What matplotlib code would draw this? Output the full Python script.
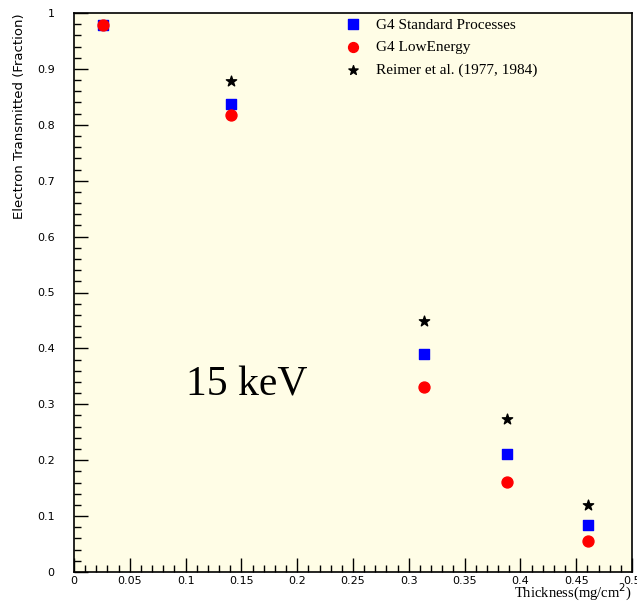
import matplotlib
matplotlib.use("Agg")
import matplotlib.pyplot as plt
from matplotlib.ticker import MultipleLocator

thickness = [0.026, 0.1407, 0.3136, 0.388, 0.4606]
g4_standard = [0.978, 0.838, 0.390, 0.211, 0.084]
g4_lowenergy = [0.978, 0.818, 0.331, 0.161, 0.055]
reimer_thickness = [0.1407, 0.3136, 0.388, 0.4606]
reimer = [0.879, 0.449, 0.274, 0.120]
x_ticks = [0, 0.05, 0.1, 0.15, 0.2, 0.25, 0.3, 0.35, 0.4, 0.45, 0.5]
x_labels = ["0", "0.05", "0.1", "0.15", "0.2", "0.25", "0.3", "0.35", "0.4", "0.45", "0.5"]
y_ticks = [0, 0.1, 0.2, 0.3, 0.4, 0.5, 0.6, 0.7, 0.8, 0.9, 1.0]
y_labels = ["0", "0.1", "0.2", "0.3", "0.4", "0.5", "0.6", "0.7", "0.8", "0.9", "1"]

fig = plt.figure(figsize=(6.37, 6.01), dpi=100)
ax = fig.add_axes([74/637, 29/601, 558/637, 559/601])
ax.set_facecolor("#fffde6")
ax.set_xlim(0, 0.5)
ax.set_ylim(0, 1)

ax.scatter(reimer_thickness, reimer, marker="*", s=60, color="black", zorder=2,
           label="Reimer et al. (1977, 1984)")
ax.scatter(thickness, g4_standard, marker="s", s=62, color="#0000ff", zorder=3,
           label="G4 Standard Processes")
ax.scatter(thickness, g4_lowenergy, marker="o", s=62, color="#ff0000", zorder=4,
           label="G4 LowEnergy")

ax.set_xticks(x_ticks)
ax.set_xticklabels(x_labels)
ax.set_yticks(y_ticks)
ax.set_yticklabels(y_labels)
ax.xaxis.set_minor_locator(MultipleLocator(0.01))
ax.yaxis.set_minor_locator(MultipleLocator(0.02))
ax.tick_params(which="major", direction="in", length=10, width=1, labelsize=8,
               top=False, right=False)
ax.tick_params(axis="y", which="major", pad=14)
ax.tick_params(axis="x", which="major", pad=3)
ax.tick_params(which="minor", direction="in", length=5, width=1, top=False, right=False)
for sp in ax.spines.values():
    sp.set_linewidth(1.2)

serif = ["Liberation Serif", "DejaVu Serif"]
fig.text(632/637, 1 - 592/601, "Thickness(mg/cm$^2$)", family=serif, fontsize=10.5,
         ha="right", va="center")
fig.text(20/637, 1 - 13/601, "Electron Transmitted (Fraction)", fontsize=9.5,
         rotation=90, ha="center", va="top")

handles, labels = ax.get_legend_handles_labels()
order = [1, 2, 0]
leg = ax.legend([handles[i] for i in order], [labels[i] for i in order],
                loc="upper left", bbox_to_anchor=(0.448, 1.016), frameon=False,
                prop={"family": serif, "size": 11}, handletextpad=0.5,
                labelspacing=0.6, scatterpoints=1, markerscale=0.9)

ax.text(0.1, 0.316, "15 keV", family=serif, fontsize=30, transform=ax.transData)

fig.savefig("out.png", dpi=100)
